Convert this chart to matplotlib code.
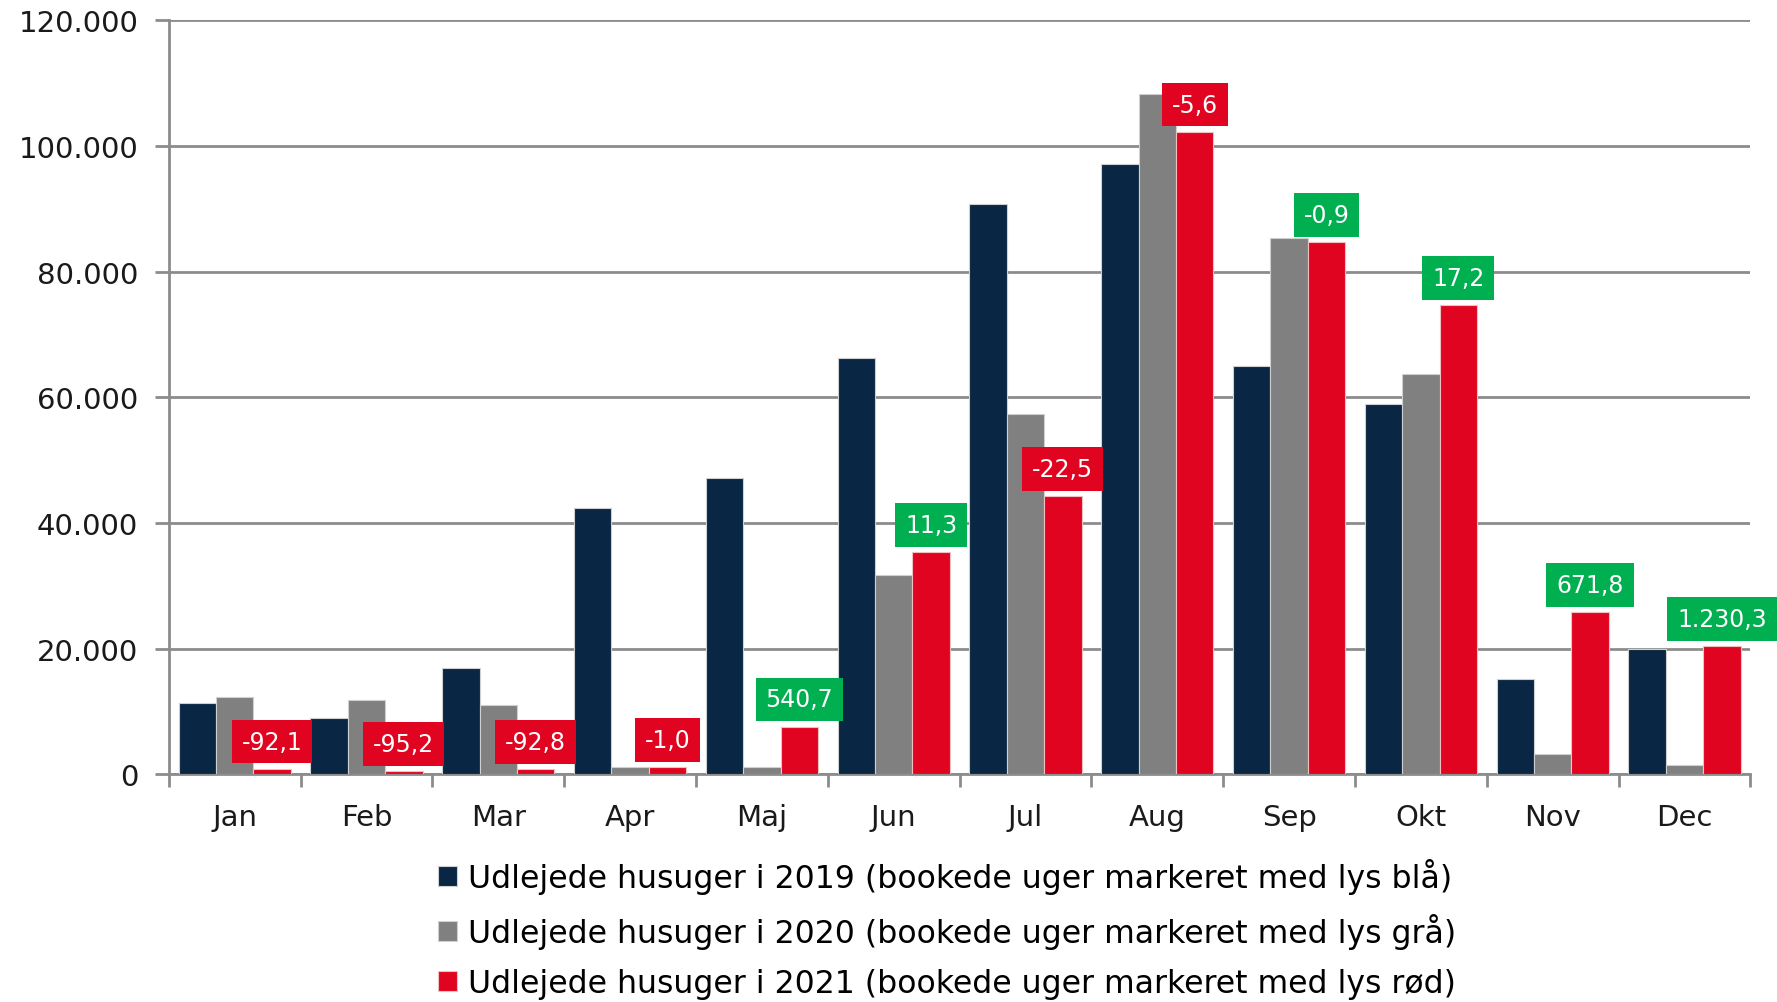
import numpy as np
import matplotlib.pyplot as plt
from matplotlib.ticker import FuncFormatter

plt.rcParams['font.family'] = ['DejaVu Sans']

months = ['Jan', 'Feb', 'Mar', 'Apr', 'Maj', 'Jun', 'Jul', 'Aug', 'Sep', 'Okt', 'Nov', 'Dec']
weeks_2019 = [11400, 8900, 17000, 42400, 47100, 66300, 90800, 97100, 65000, 59000, 15200, 19900]
weeks_2020 = [12300, 11900, 11000, 1200, 1200, 31800, 57300, 108300, 85400, 63700, 3300, 1500]
weeks_2021 = [900, 500, 800, 1200, 7600, 35400, 44300, 102300, 84700, 74700, 25800, 20400]
change_labels = ['-92,1', '-95,2', '-92,8', '-1,0', '540,7', '11,3', '-22,5', '-5,6', '-0,9', '17,2', '671,8', '1.230,3']
change_colors = ['#E00420', '#E00420', '#E00420', '#E00420', '#00B050', '#00B050',
                 '#E00420', '#E00420', '#00B050', '#00B050', '#00B050', '#00B050']
legend_labels = ['Udlejede husuger i 2019 (bookede uger markeret med lys blå)',
                 'Udlejede husuger i 2020 (bookede uger markeret med lys grå)',
                 'Udlejede husuger i 2021 (bookede uger markeret med lys rød)']

navy = '#0A2645'
grey = '#808080'
red = '#E00420'
axis_grey = '#8C8C8C'

fig = plt.figure(figsize=(17.77, 10.03), dpi=100)
ax = fig.add_axes([0.095, 0.227, 0.89, 0.7516])

x = np.arange(len(months))
w = 0.284
b1 = ax.bar(x - w, weeks_2019, w, color=navy, edgecolor='#d0d0d0', linewidth=0.8, zorder=3, label=legend_labels[0])
b2 = ax.bar(x, weeks_2020, w, color=grey, edgecolor='#d0d0d0', linewidth=0.8, zorder=3, label=legend_labels[1])
b3 = ax.bar(x + w, weeks_2021, w, color=red, edgecolor='#f0c0c0', linewidth=0.8, zorder=3, label=legend_labels[2])

# procentvis ændring 2021 ift. 2020 over de røde søjler
for xi, val, lab, col in zip(x, weeks_2021, change_labels, change_colors):
    ax.annotate(lab, xy=(xi + w, val), xytext=(0, 19.5), textcoords='offset points',
                ha='center', va='center', color='white', fontsize=17, zorder=5,
                annotation_clip=False,
                bbox=dict(boxstyle='square,pad=0.42', facecolor=col, edgecolor='none'))

ax.set_xlim(-0.5, 11.5)
ax.set_ylim(0, 120000)
ax.set_yticks(np.arange(0, 120001, 20000))
ax.yaxis.set_major_formatter(FuncFormatter(lambda v, p: f'{int(v):,}'.replace(',', '.')))
ax.yaxis.grid(True, color=axis_grey, linewidth=2, zorder=0)
ax.set_axisbelow(True)

ax.set_xticks(x)
ax.set_xticklabels(months)
ax.set_xticks(np.arange(-0.5, 12, 1), minor=True)
ax.tick_params(axis='x', which='major', length=0, pad=21, labelsize=21, colors='#1a1a1a')
ax.tick_params(axis='x', which='minor', length=9, width=2, color=axis_grey)
ax.tick_params(axis='y', length=10, width=2, color=axis_grey, labelsize=21, labelcolor='#1a1a1a', pad=12)

for s in ['top', 'right']:
    ax.spines[s].set_visible(False)
for s in ['left', 'bottom']:
    ax.spines[s].set_color(axis_grey)
    ax.spines[s].set_linewidth(2)

fig.legend(handles=[b1, b2, b3], loc='upper center', bbox_to_anchor=(0.533, 0.156), ncol=1,
           frameon=False, fontsize=22.7, handlelength=0.6, handleheight=0.6, handletextpad=0.35,
           labelspacing=0.6, borderaxespad=0)

fig.savefig('out.png', dpi=100)
